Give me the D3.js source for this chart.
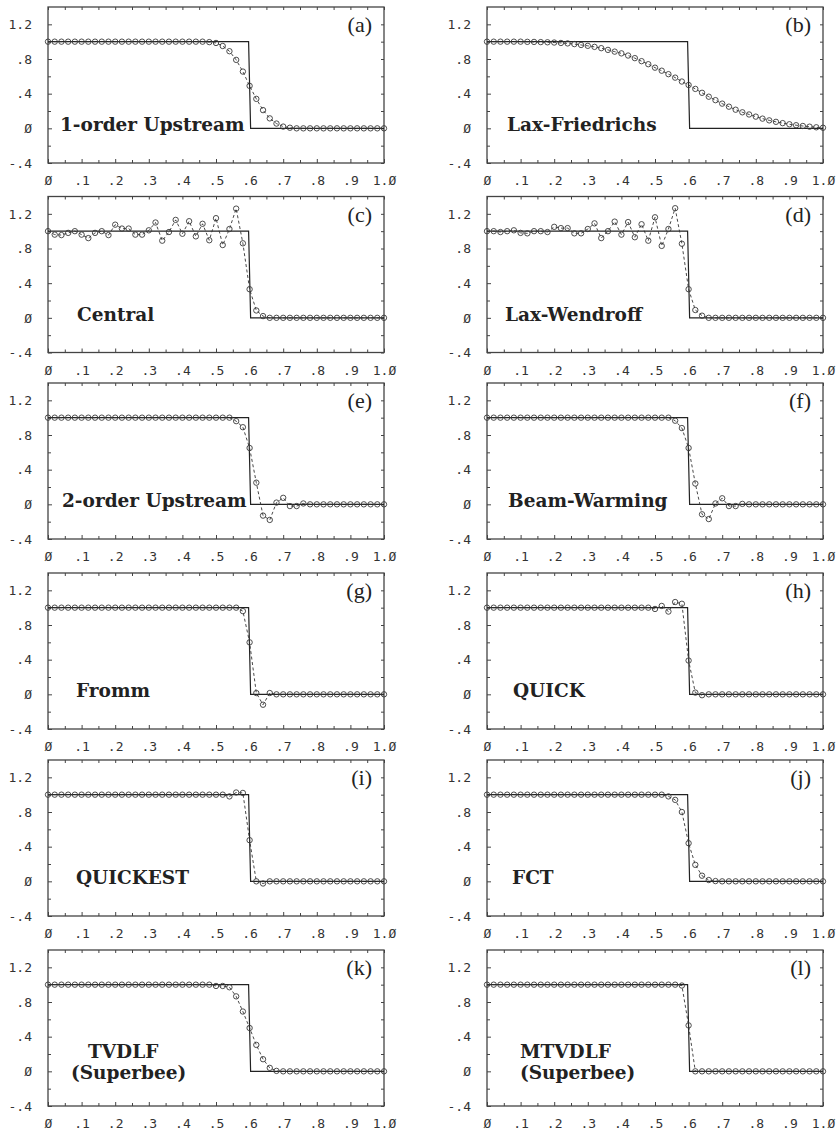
<!DOCTYPE html>
<html>
<head>
<meta charset="utf-8">
<script src="https://cdn.jsdelivr.net/npm/d3@7"></script>
<style>
  body { margin: 0; background: #fff; }
  .tick text { font-family: "DejaVu Sans Mono", monospace; font-size: 13px; fill: #333; }
  .tick line { stroke: #444; stroke-width: 1; }
  .frame { fill: none; stroke: #444; stroke-width: 1.3; }
  .exact { fill: none; stroke: #222; stroke-width: 1.2; }
  .numeric { fill: none; stroke: #333; stroke-width: 0.9; stroke-dasharray: 3,2.5; }
  .dot { fill: none; stroke: #3a3a3a; stroke-width: 0.9; }
  .tag { font-family: "Liberation Serif", serif; font-size: 22px; fill: #222; }
  .method { font-family: "DejaVu Serif", serif; font-weight: bold; font-size: 18.5px; fill: #222; }
</style>
</head>
<body>
<div id="chart"></div>
<script>
// grille des points de calcul (pas 0.02)
const xs = [0, 0.02, 0.04, 0.06, 0.08, 0.10, 0.12, 0.14, 0.16, 0.18,
            0.20, 0.22, 0.24, 0.26, 0.28, 0.30, 0.32, 0.34, 0.36, 0.38,
            0.40, 0.42, 0.44, 0.46, 0.48, 0.50, 0.52, 0.54, 0.56, 0.58,
            0.60, 0.62, 0.64, 0.66, 0.68, 0.70, 0.72, 0.74, 0.76, 0.78,
            0.80, 0.82, 0.84, 0.86, 0.88, 0.90, 0.92, 0.94, 0.96, 0.98, 1.00];

// solution exacte (marche en x = 0.6)
const exactX = [0, 0.597, 0.603, 1.0];
const exactY = [1, 1, 0, 0];

// solutions numériques
const upstream1 = [1,1,1,1,1,1,1,1,1,1, 1,1,1,1,1,1,1,1,1,1, 1,1,1,1,0.995,0.985,0.95,0.89,0.79,0.655,
                   0.49,0.34,0.21,0.115,0.055,0.02,0.007,0,0,0, 0,0,0,0,0,0,0,0,0,0, 0];
const laxFriedrichs = [1,1,1,1,1,1,0.998,0.997,0.995,0.993, 0.99,0.985,0.98,0.972,0.962,0.952,0.94,0.925,0.905,0.885,
                       0.865,0.84,0.81,0.775,0.74,0.70,0.665,0.625,0.585,0.54,
                       0.50,0.455,0.41,0.365,0.325,0.285,0.25,0.215,0.185,0.16,
                       0.135,0.112,0.092,0.075,0.06,0.047,0.036,0.027,0.019,0.012, 0.007];
const central = [1.0,0.96,0.955,0.98,1.0,0.96,0.92,0.98,1.0,0.955, 1.075,1.03,1.03,0.96,0.96,1.01,1.1,0.89,0.99,1.13,
                 0.97,1.115,0.94,1.085,0.895,1.15,0.84,1.025,1.26,0.86, 0.33,0.085,0.02,0,0,0,0,0,0,0,
                 0,0,0,0,0,0,0,0,0,0, 0];
const laxWendroff = [1.0,1.0,0.99,1.0,1.01,0.98,0.975,1.0,1.0,0.99, 1.05,1.035,1.035,0.975,0.975,1.025,1.09,0.92,1.0,1.11,
                     0.96,1.105,0.93,1.08,0.89,1.16,0.83,1.025,1.265,0.855, 0.33,0.09,0.025,0,0,0,0,0,0,0,
                     0,0,0,0,0,0,0,0,0,0, 0];
const upstream2 = [1,1,1,1,1,1,1,1,1,1, 1,1,1,1,1,1,1,1,1,1, 1,1,1,1,1,1,1,1,0.96,0.89,
                   0.65,0.25,-0.13,-0.18,0.02,0.075,-0.02,-0.02,0.01,0, 0,0,0,0,0,0,0,0,0,0, 0];
const beamWarming = [1,1,1,1,1,1,1,1,1,1, 1,1,1,1,1,1,1,1,1,1, 1,1,1,1,1,1,1,1,0.965,0.88,
                     0.65,0.24,-0.115,-0.17,0.01,0.07,-0.02,-0.02,0.005,0, 0,0,0,0,0,0,0,0,0,0, 0];
const fromm = [1,1,1,1,1,1,1,1,1,1, 1,1,1,1,1,1,1,1,1,1, 1,1,1,1,1,1,1,1,1,0.96,
               0.6,0.015,-0.12,0.015,0,0,0,0,0,0, 0,0,0,0,0,0,0,0,0,0, 0];
const quick = [1,1,1,1,1,1,1,1,1,1, 1,1,1,1,1,1,1,1,1,1, 1,1,1,1,1,0.985,1.02,0.955,1.065,1.045,
               0.39,0.02,-0.01,0,0,0,0,0,0,0, 0,0,0,0,0,0,0,0,0,0, 0];
const quickest = [1,1,1,1,1,1,1,1,1,1, 1,1,1,1,1,1,1,1,1,1, 1,1,1,1,1,1,1,0.98,1.025,1.02,
                  0.475,0.0,-0.025,0,0,0,0,0,0,0, 0,0,0,0,0,0,0,0,0,0, 0];
const fct = [1,1,1,1,1,1,1,1,1,1, 1,1,1,1,1,1,1,1,1,1, 1,1,1,1,1,1,1,0.98,0.94,0.8,
             0.44,0.19,0.065,0.015,0.003,0,0,0,0,0, 0,0,0,0,0,0,0,0,0,0, 0];
const tvdlf = [1,1,1,1,1,1,1,1,1,1, 1,1,1,1,1,1,1,1,1,1, 1,1,1,1,1,0.985,0.985,0.97,0.865,0.69,
               0.5,0.305,0.14,0.04,0.005,0,0,0,0,0, 0,0,0,0,0,0,0,0,0,0, 0];
const mtvdlf = [1,1,1,1,1,1,1,1,1,1, 1,1,1,1,1,1,1,1,1,1, 1,1,1,1,1,1,1,1,1,0.99,
                0.53,0,0,0,0,0,0,0,0,0, 0,0,0,0,0,0,0,0,0,0, 0];

const series = [upstream1, laxFriedrichs, central, laxWendroff, upstream2, beamWarming,
                fromm, quick, quickest, fct, tvdlf, mtvdlf];
const tags = ["(a)", "(b)", "(c)", "(d)", "(e)", "(f)", "(g)", "(h)", "(i)", "(j)", "(k)", "(l)"];
const methods = [["1-order Upstream"], ["Lax-Friedrichs"], ["Central"], ["Lax-Wendroff"],
                 ["2-order Upstream"], ["Beam-Warming"], ["Fromm"], ["QUICK"],
                 ["QUICKEST"], ["FCT"], ["TVDLF", "(Superbee)"], ["MTVDLF", "(Superbee)"]];

// graduations
const xTickVals = [0, 0.1, 0.2, 0.3, 0.4, 0.5, 0.6, 0.7, 0.8, 0.9, 1.0];
const xTickLabels = ["Ø", ".1", ".2", ".3", ".4", ".5", ".6", ".7", ".8", ".9", "1.Ø"];
const xMinor = [0.05, 0.15, 0.25, 0.35, 0.45, 0.55, 0.65, 0.75, 0.85, 0.95];
const yTickVals = [-0.4, 0, 0.4, 0.8, 1.2];
const yTickLabels = ["-.4", "Ø", ".4", ".8", "1.2"];
const yMinor = [-0.2, 0.2, 0.6, 1.0];

// mise en page
const colLeft = [48, 487];
const rowTop = [7, 196.5, 383, 573, 760, 950];
const panelW = 336, panelH = 156;
// décalage horizontal des noms de schéma, et décalage vertical de la ligne de base
const labelDx = [[12], [20], [29], [18], [14], [21], [28], [26], [28], [25], [40, 23], [33, 33]];
const labelDy = [[3], [3], [3], [3], [3], [3], [3], [3], [3], [3], [-13, 8], [-13, 8]];

const svg = d3.select("#chart").append("svg")
              .attr("width", 839)
              .attr("height", 1135)
              .style("background", "#fff");

let x = d3.scaleLinear().domain([0, 1]).range([0, panelW]);
let y = d3.scaleLinear().domain([-0.4, 1.4]).range([panelH, 0]);

let line = d3.line()
             .x((d, i) => x(xs[i]))
             .y(d => y(d));

series.forEach((values, p) => {
  let g = svg.append("g")
             .attr("transform", `translate(${colLeft[p % 2]},${rowTop[Math.floor(p / 2)]})`);

  // axes (graduations vers l'intérieur)
  g.append("g")
   .attr("transform", `translate(0,${panelH})`)
   .call(d3.axisBottom(x).tickValues(xTickVals).tickFormat((d, i) => xTickLabels[i]).tickSize(-4).tickPadding(13));
  g.append("g")
   .attr("transform", `translate(0,${panelH})`)
   .call(d3.axisBottom(x).tickValues(xMinor).tickFormat("").tickSize(-3));
  g.append("g")
   .call(d3.axisTop(x).tickValues(xTickVals.concat(xMinor)).tickFormat("").tickSize(-3));
  g.append("g")
   .call(d3.axisLeft(y).tickValues(yTickVals).tickFormat((d, i) => yTickLabels[i]).tickSize(-4).tickPadding(16));
  g.append("g")
   .call(d3.axisLeft(y).tickValues(yMinor).tickFormat("").tickSize(-3));
  g.append("g")
   .attr("transform", `translate(${panelW},0)`)
   .call(d3.axisRight(y).tickValues(yTickVals.concat(yMinor)).tickFormat("").tickSize(-3));
  g.selectAll(".domain").remove();

  g.append("rect")
   .attr("class", "frame")
   .attr("width", panelW)
   .attr("height", panelH);

  // solution exacte
  g.append("path")
   .attr("class", "exact")
   .attr("d", d3.line().x(d => x(d)).y((d, i) => y(exactY[i]))(exactX));

  // solution numérique
  g.append("path")
   .attr("class", "numeric")
   .attr("d", line(values));

  g.selectAll("circle")
   .data(values)
   .enter()
   .append("circle")
   .attr("class", "dot")
   .attr("r", 2.7)
   .attr("cx", (d, i) => x(xs[i]))
   .attr("cy", d => y(d));

  // étiquettes
  g.append("text")
   .attr("class", "tag")
   .attr("text-anchor", "end")
   .attr("x", panelW - 12)
   .attr("y", 25)
   .text(tags[p]);

  methods[p].forEach((txt, k) => {
    g.append("text")
     .attr("class", "method")
     .attr("x", labelDx[p][k])
     .attr("y", y(0) + labelDy[p][k])
     .text(txt);
  });
});
</script>
</body>
</html>
